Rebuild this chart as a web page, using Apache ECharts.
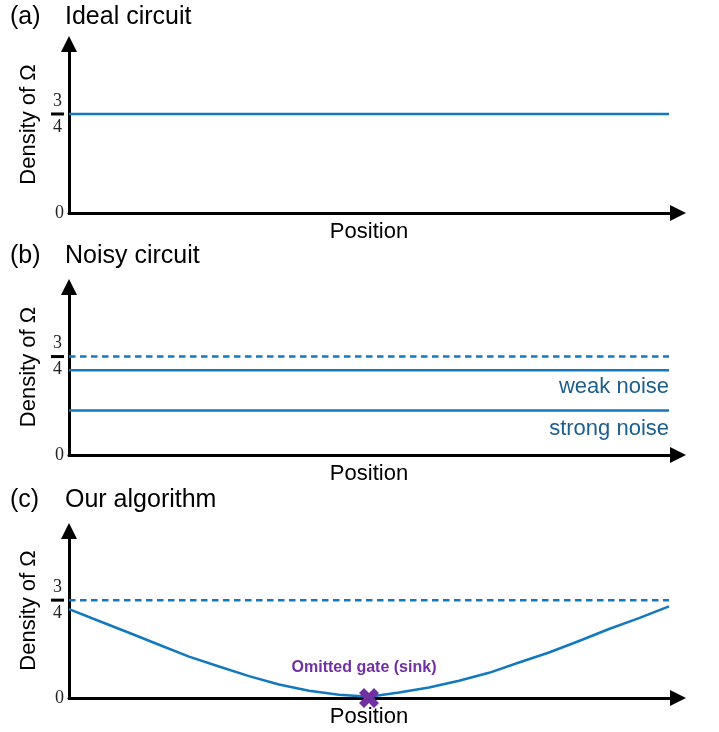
<!DOCTYPE html>
<html>
<head>
<meta charset="utf-8">
<script src="https://cdn.jsdelivr.net/npm/echarts@6/dist/echarts.min.js"></script>
<style>html,body{margin:0;padding:0;background:#fff;}#c{width:719px;height:732px;}</style>
</head>
<body>
<div id="c"></div>
<script>
// ---- data ----
const panelLetters = ['(a)', '(b)', '(c)'];
const panelTitles = ['Ideal circuit', 'Noisy circuit', 'Our algorithm'];
const xAxisName = 'Position';
const yAxisName = 'Density of Ω';
const yTickValues = [0, 0.75];
const flatPositions = [0, 1];
const idealDensity = [0.75, 0.75];
const referenceDensity = [0.75, 0.75];
const weakNoiseDensity = [0.645, 0.645];
const strongNoiseDensity = [0.34, 0.34];
const weakNoiseLabel = 'weak noise';
const strongNoiseLabel = 'strong noise';
const algoPositions = [0, 0.05, 0.1, 0.15, 0.2, 0.25, 0.3, 0.35, 0.4, 0.45, 0.5, 0.55, 0.6, 0.65, 0.7, 0.75, 0.8, 0.85, 0.9, 0.95, 1.0];
const algoDensity   = [0.681, 0.59, 0.5, 0.408, 0.317, 0.241, 0.168, 0.104, 0.056, 0.025, 0.01, 0.042, 0.081, 0.132, 0.193, 0.272, 0.349, 0.437, 0.529, 0.612, 0.702];
const sinkPosition = [0.5];
const sinkDensity = [0];
const sinkLabel = 'Omitted gate (sink)';

// ---- style ----
const FONT = "Helvetica, 'Liberation Sans', Arial, sans-serif";
const SERIF = "'Liberation Serif', 'Times New Roman', serif";
const BLUE = '#1379bf';
const LABEL_BLUE = '#1c5e8e';
const PURPLE = '#7030a0';
const grids = [
  {left: 69, width: 609, top: 44, height: 169},
  {left: 69, width: 609, top: 287, height: 168},
  {left: 69, width: 609, top: 531, height: 167}
];
const titleTops = [5, 244, 488];

function zip(xs, ys) { return xs.map((x, i) => [x, ys[i]]); }

const xAxes = grids.map((g, i) => ({
  type: 'value', gridIndex: i, min: 0, max: 1.015,
  axisLine: {show: true, onZero: false, symbol: ['none', 'triangle'], symbolSize: [16, 16],
    lineStyle: {color: '#000', width: 3}},
  axisTick: {show: false}, axisLabel: {show: false}, splitLine: {show: false},
  name: xAxisName, nameLocation: 'middle', nameGap: 8,
  nameTextStyle: {fontFamily: FONT, fontSize: 22, color: '#000', padding: [0, 9, 0, 0]}
}));

const yAxes = grids.map((g, i) => ({
  type: 'value', gridIndex: i, min: 0, max: 1.28, interval: 0.75,
  axisLine: {show: true, symbol: ['none', 'triangle'], symbolSize: [16, 16],
    lineStyle: {color: '#000', width: 3}},
  axisTick: {show: false}, splitLine: {show: false},
  axisLabel: {
    margin: 5,
    formatter: function (v) {
      if (Math.abs(v - yTickValues[0]) < 1e-9) return '{z|0}';
      if (Math.abs(v - yTickValues[1]) < 1e-9) return '{n|3}\n{bar|}\n{d|4}';
      return '';
    },
    rich: {
      z: {fontFamily: SERIF, fontSize: 18, color: '#222'},
      n: {fontFamily: SERIF, fontSize: 18, color: '#222', lineHeight: 23, align: 'center'},
      d: {fontFamily: SERIF, fontSize: 18, color: '#222', lineHeight: 23, align: 'center'},
      bar: {width: 13, height: 3, lineHeight: 3, backgroundColor: '#000', align: 'center'}
    }
  },
  name: yAxisName, nameLocation: 'middle', nameGap: 22,
  nameTextStyle: {fontFamily: FONT, fontSize: 22, color: '#000', padding: [0, 0, 0, 8]}
}));

const titles = [];
panelLetters.forEach((t, i) => {
  titles.push({text: t, left: 10, top: titleTops[i], padding: 0,
    textStyle: {fontFamily: FONT, fontSize: 25, fontWeight: 'normal', color: '#000'}});
  titles.push({text: panelTitles[i], left: 65, top: titleTops[i], padding: 0,
    textStyle: {fontFamily: FONT, fontSize: 25, fontWeight: 'normal', color: '#000'}});
});

const lineBase = {type: 'line', showSymbol: false, symbol: 'none', silent: true, animation: false};

function endLabelSeries(axisIdx, xs, ys, text, dist) {
  const n = xs.length - 1;
  return {type: 'scatter', xAxisIndex: axisIdx, yAxisIndex: axisIdx, silent: true, animation: false,
    data: [[xs[n], ys[n]]], symbolSize: 1, itemStyle: {color: 'rgba(0,0,0,0)', opacity: 1},
    label: {show: true, formatter: text, position: 'bottom', align: 'right', distance: dist,
      fontFamily: FONT, fontSize: 22, color: LABEL_BLUE}};
}

const series = [
  Object.assign({}, lineBase, {xAxisIndex: 0, yAxisIndex: 0, data: zip(flatPositions, idealDensity),
    lineStyle: {color: BLUE, width: 2.5}}),
  Object.assign({}, lineBase, {xAxisIndex: 1, yAxisIndex: 1, data: zip(flatPositions, referenceDensity),
    lineStyle: {color: BLUE, width: 2.5, type: [6.5, 4.5]}}),
  Object.assign({}, lineBase, {xAxisIndex: 1, yAxisIndex: 1, data: zip(flatPositions, weakNoiseDensity),
    lineStyle: {color: BLUE, width: 2.5}}),
  Object.assign({}, lineBase, {xAxisIndex: 1, yAxisIndex: 1, data: zip(flatPositions, strongNoiseDensity),
    lineStyle: {color: BLUE, width: 2.5}}),
  endLabelSeries(1, flatPositions, weakNoiseDensity, weakNoiseLabel, 5),
  endLabelSeries(1, flatPositions, strongNoiseDensity, strongNoiseLabel, 7),
  Object.assign({}, lineBase, {xAxisIndex: 2, yAxisIndex: 2, data: zip(flatPositions, referenceDensity),
    lineStyle: {color: BLUE, width: 2.5, type: [6.5, 4.5]}}),
  Object.assign({}, lineBase, {xAxisIndex: 2, yAxisIndex: 2, data: zip(algoPositions, algoDensity),
    smooth: false, lineStyle: {color: BLUE, width: 2.5, join: 'round'}}),
  {type: 'scatter', xAxisIndex: 2, yAxisIndex: 2, silent: true, animation: false, z: 5,
    data: zip(sinkPosition, sinkDensity),
    symbol: 'path://M2.5,0 L5,2.5 L7.5,0 L10,2.5 L7.5,5 L10,7.5 L7.5,10 L5,7.5 L2.5,10 L0,7.5 L2.5,5 L0,2.5 Z',
    symbolSize: 20, itemStyle: {color: PURPLE, opacity: 1},
    label: {show: true, formatter: sinkLabel, position: 'top', distance: 12, offset: [-5, 0],
      fontFamily: FONT, fontSize: 16, fontWeight: 'bold', color: PURPLE}}
];

const chart = echarts.init(document.getElementById('c'), null, {renderer: 'canvas'});
chart.setOption({
  animation: false,
  backgroundColor: '#fff',
  title: titles,
  grid: grids,
  xAxis: xAxes,
  yAxis: yAxes,
  series: series
});
</script>
</body>
</html>
